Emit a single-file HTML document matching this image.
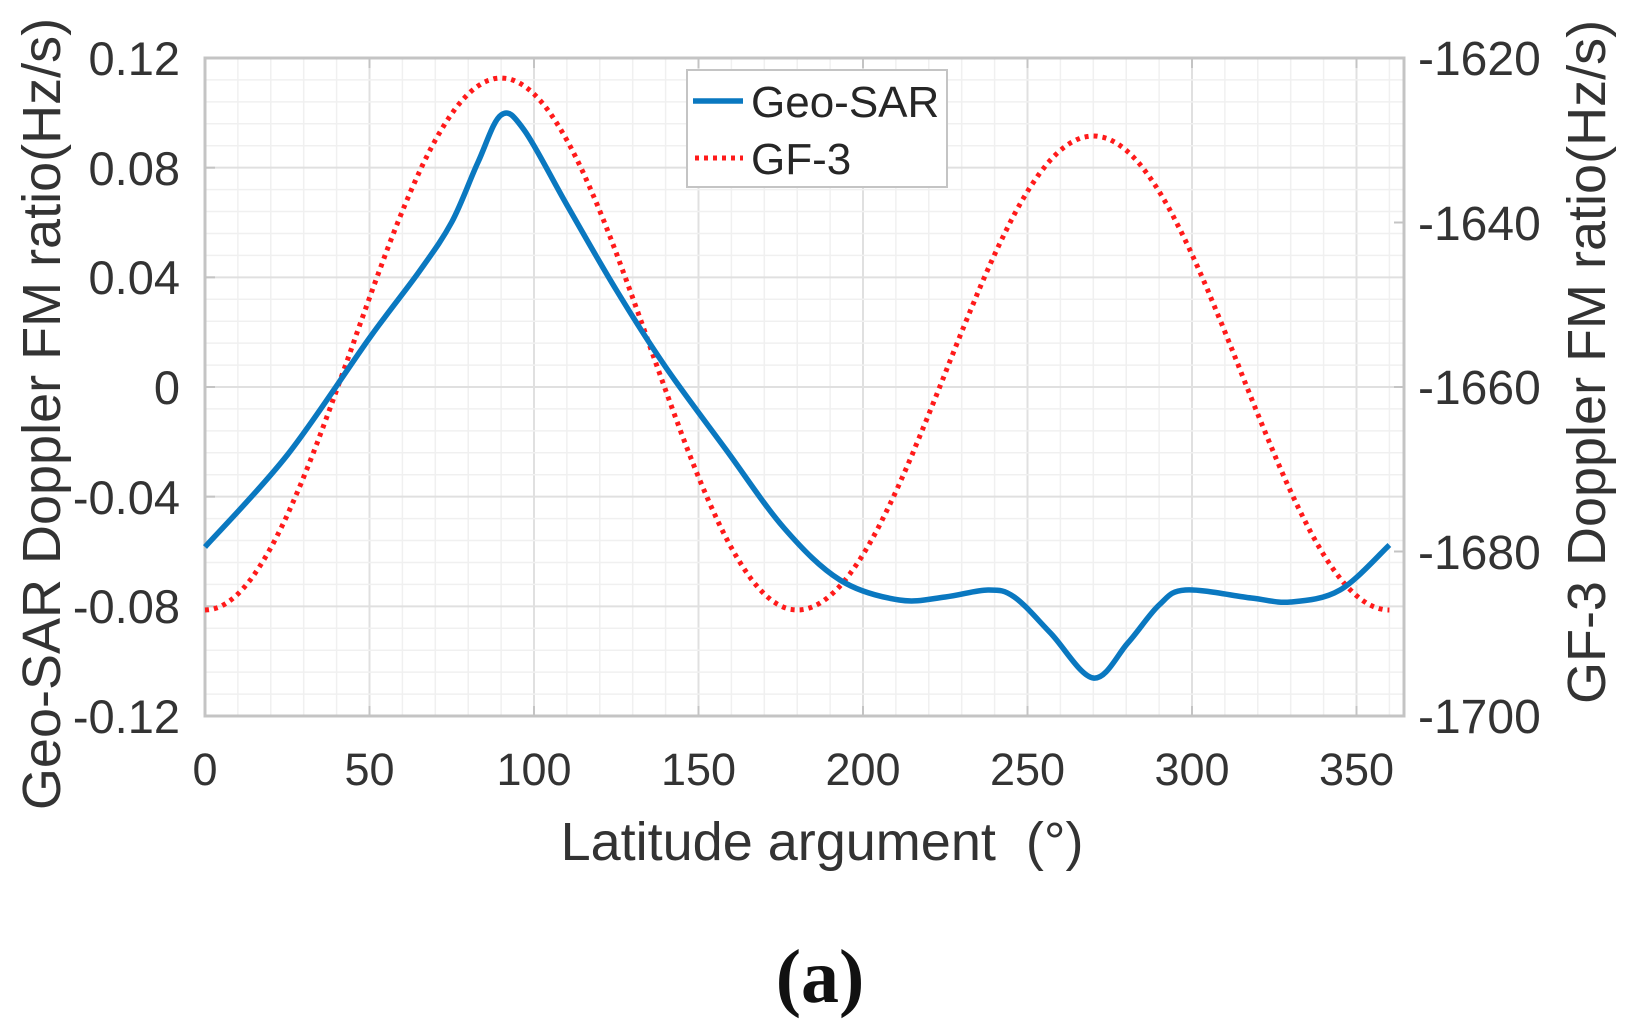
<!DOCTYPE html>
<html><head><meta charset="utf-8"><style>
html,body{margin:0;padding:0;background:#fff;}
svg{display:block;font-family:"Liberation Sans",sans-serif;}
</style></head><body>
<svg id="s" width="1633" height="1033" viewBox="0 0 1633 1033" xmlns="http://www.w3.org/2000/svg">
<rect width="1633" height="1033" fill="#fff"/>
<g id="grid"></g>
<rect x="205" y="58" width="1199" height="658" fill="none" stroke="#c4c4c4" stroke-width="3"/>
<g id="ticks"></g>
<path id="red" fill="none" stroke="#ff1a1a" stroke-width="5" stroke-dasharray="4 5"/>
<path id="blue" fill="none" stroke="#0a78c0" stroke-width="5.5" stroke-linejoin="round"/>
<rect x="687" y="70" width="260" height="117" fill="#fff" stroke="#c4c4c4" stroke-width="2"/>
<line x1="693" y1="101" x2="743" y2="101" stroke="#0a78c0" stroke-width="5.5"/>
<line x1="695" y1="158" x2="743" y2="158" stroke="#ff1a1a" stroke-width="5" stroke-dasharray="4 5"/>
<text x="751" y="117" font-size="44" fill="#262626">Geo-SAR</text>
<text x="751" y="174" font-size="44" fill="#262626">GF-3</text>
<g font-size="47" fill="#333" text-anchor="end">
<text x="180" y="75">0.12</text>
<text x="180" y="185">0.08</text>
<text x="180" y="294">0.04</text>
<text x="180" y="404">0</text>
<text x="180" y="514">-0.04</text>
<text x="180" y="623">-0.08</text>
<text x="180" y="733">-0.12</text>
</g>
<g font-size="48" fill="#333" text-anchor="start">
<text x="1418" y="75">-1620</text>
<text x="1418" y="240">-1640</text>
<text x="1418" y="404">-1660</text>
<text x="1418" y="569">-1680</text>
<text x="1418" y="733">-1700</text>
</g>
<g font-size="45" fill="#333" text-anchor="middle">
<text x="205" y="785">0</text>
<text x="369.5" y="785">50</text>
<text x="534" y="785">100</text>
<text x="698.5" y="785">150</text>
<text x="863" y="785">200</text>
<text x="1027.5" y="785">250</text>
<text x="1192" y="785">300</text>
<text x="1356.5" y="785">350</text>
</g>
<text x="822" y="860" font-size="54" fill="#333" text-anchor="middle" xml:space="preserve">Latitude argument  (°)</text>
<text transform="translate(60,414) rotate(-90)" font-size="54" fill="#333" text-anchor="middle">Geo-SAR Doppler FM ratio(Hz/s)</text>
<text transform="translate(1605,362) rotate(-90)" font-size="54" fill="#333" text-anchor="middle">GF-3 Doppler FM ratio(Hz/s)</text>
<text x="820" y="1002" font-size="76" font-weight="bold" fill="#111" text-anchor="middle" font-family="Liberation Serif, serif">(a)</text>
</svg>
<script>
var X=function(t){return 205+t*3.29;};
var g='',k='';
for(var t=0;t<=364;t+=10){var x=X(t);g+='<line x1="'+x+'" y1="58" x2="'+x+'" y2="716" stroke="'+(t%50==0?'#e0e0e0':'#f0f0f0')+'" stroke-width="'+(t%50==0?2:1.5)+'"/>';
 if(t%50==0){k+='<line x1="'+x+'" y1="716" x2="'+x+'" y2="706" stroke="#c4c4c4" stroke-width="2"/><line x1="'+x+'" y1="58" x2="'+x+'" y2="68" stroke="#c4c4c4" stroke-width="2"/>';}}
for(var i=0;i<=30;i++){var y=58+i*658/30;g+='<line x1="205" y1="'+y+'" x2="1404" y2="'+y+'" stroke="'+(i%5==0?'#e0e0e0':'#f0f0f0')+'" stroke-width="'+(i%5==0?2:1.5)+'"/>';
 if(i%5==0)k+='<line x1="205" y1="'+y+'" x2="215" y2="'+y+'" stroke="#c4c4c4" stroke-width="2"/>';}
for(var i=0;i<=4;i++){var y=58+i*164.5;k+='<line x1="1394" y1="'+y+'" x2="1404" y2="'+y+'" stroke="#c4c4c4" stroke-width="2"/>';}
document.getElementById('grid').innerHTML=g;document.getElementById('ticks').innerHTML=k;
var d='';for(var t=0;t<=360;t+=1){var h=t<180?532:474;var y=610-h*(1-Math.cos(2*t*Math.PI/180))/2;d+=(t?'L':'M')+X(t).toFixed(1)+' '+y.toFixed(1);}
document.getElementById('red').setAttribute('d',d);
var P=[[0,547],[25,455],[50,338],[65,272],[75,222],[83,162],[90,115],[97,130],[110,205],[125,290],[140,367],[158,448],[176,528],[193,580],[211,600],[225,597],[238,590],[246,597],[257,633],[270,678],[280.5,643],[290,605],[298,590],[318,598],[330,602],[345,590],[360,545]];
var pts=P.map(function(p){return [X(p[0]),p[1]];});
var b='M'+pts[0][0]+' '+pts[0][1];
for(var i=0;i<pts.length-1;i++){var p0=pts[i-1]||pts[i],p1=pts[i],p2=pts[i+1],p3=pts[i+2]||p2;
b+='C'+(p1[0]+(p2[0]-p0[0])/6).toFixed(1)+' '+(p1[1]+(p2[1]-p0[1])/6).toFixed(1)+' '+(p2[0]-(p3[0]-p1[0])/6).toFixed(1)+' '+(p2[1]-(p3[1]-p1[1])/6).toFixed(1)+' '+p2[0].toFixed(1)+' '+p2[1];}
document.getElementById('blue').setAttribute('d',b);
</script>
</body></html>
